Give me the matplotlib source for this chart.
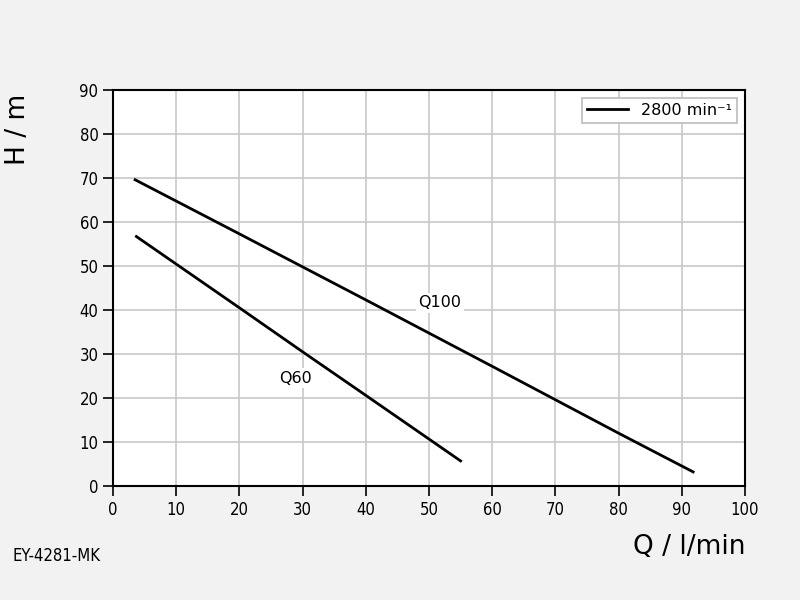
import matplotlib.pyplot as plt

# pump curves
q100_x = [3.5, 20, 40, 60, 80, 91.8]
q100_y = [69.6, 57.3, 42.3, 27.2, 12.0, 3.2]
q60_x = [3.7, 20, 30, 40, 55.0]
q60_y = [56.7, 40.5, 30.5, 20.6, 5.7]

xticks = list(range(0, 101, 10))
yticks = list(range(0, 91, 10))

plt.rcParams['font.family'] = ['DejaVu Sans']
plt.rcParams['font.stretch'] = 'condensed'

fig = plt.figure(figsize=(8, 6), dpi=100, facecolor='#f2f2f2')
ax = fig.add_axes([0.14125, 0.19, 0.79, 0.66])
ax.set_facecolor('white')

ax.plot(q100_x, q100_y, color='black', lw=2, label='2800 min\u207b\u00b9')
ax.plot(q60_x, q60_y, color='black', lw=2)

ax.set_xlim(0, 100)
ax.set_ylim(0, 90)
ax.set_xticks(xticks)
ax.set_yticks(yticks)
ax.grid(True, color='#c8c8c8', lw=1.2)
ax.set_axisbelow(True)
ax.tick_params(direction='out', length=7, width=1.2, labelsize=12, color='black')
for s in ax.spines.values():
    s.set_linewidth(1.5)
    s.set_color('black')

box = dict(facecolor='white', edgecolor='none', pad=2)
ax.text(51.7, 41.6, 'Q100', fontsize=11.5, ha='center', va='center', bbox=box,
        fontstretch='normal')
ax.text(28.8, 24.5, 'Q60', fontsize=11.5, ha='center', va='center', bbox=box,
        fontstretch='normal')

leg = ax.legend(loc='upper right', fontsize=11.5, fancybox=False, framealpha=1,
                edgecolor='#bbbbbb', handlelength=2.6, borderpad=0.3,
                prop={'stretch': 'normal', 'size': 11.5})
leg.get_frame().set_linewidth(1.2)

fig.text(0.0225, 0.785, 'H / m', rotation=90, fontsize=19, ha='center', va='center',
         fontstretch='normal')
fig.text(0.862, 0.088, 'Q / l/min', fontsize=19, ha='center', va='center',
         fontstretch='normal')
fig.text(0.015, 0.073, 'EY-4281-MK', fontsize=12, ha='left', va='center')

fig.savefig('out.png', dpi=100, facecolor=fig.get_facecolor())
